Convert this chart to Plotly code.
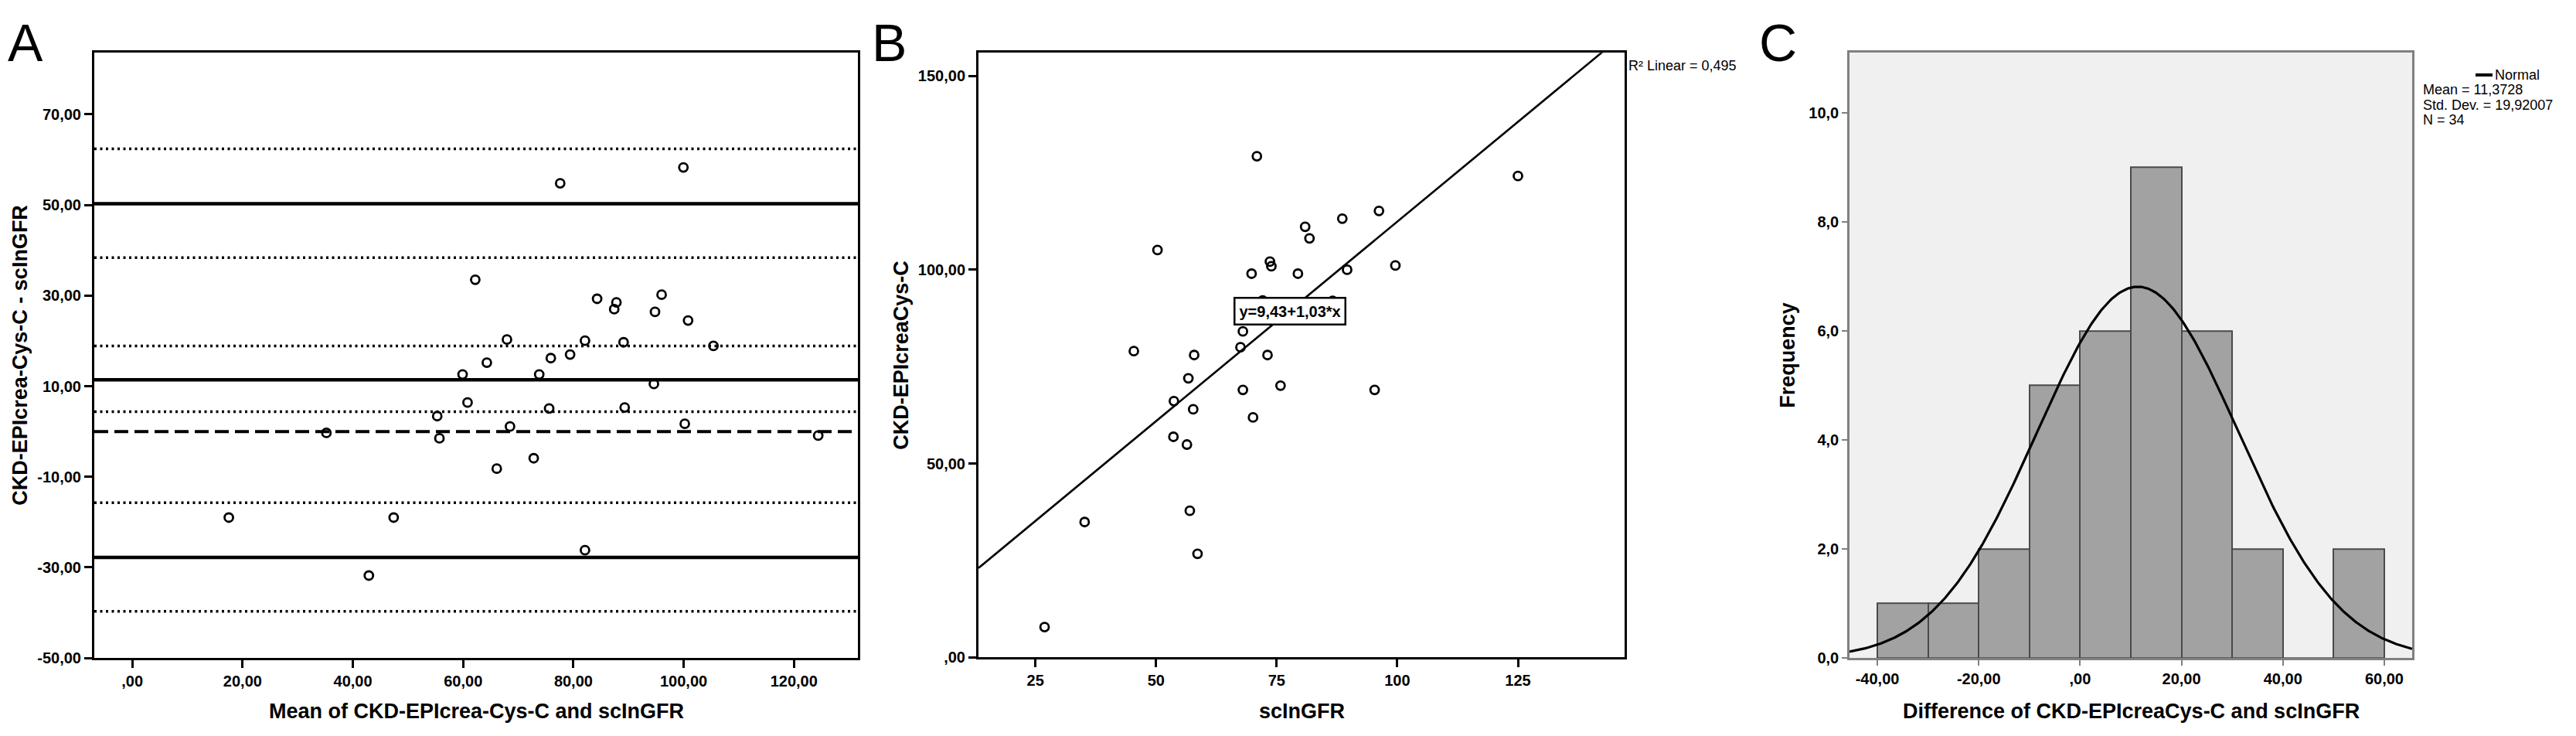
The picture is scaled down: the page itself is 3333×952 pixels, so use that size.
import numpy as np
import plotly.graph_objects as go

W, H = 3333, 952

# ---------------- Data ----------------
# Panel A: Bland-Altman (mean vs difference)
A_MEAN = [77.6, 99.95, 62.2, 84.3, 87.8, 87.4, 96.0, 94.8, 100.8, 67.95, 82.1, 89.1,
          105.4, 79.4, 75.9, 64.3, 59.9, 73.8, 94.6, 60.8, 75.6, 89.3, 55.3, 68.5,
          100.2, 35.2, 55.7, 124.4, 72.8, 66.1, 17.5, 47.4, 82.1, 42.9]
A_DIFF = [54.8, 58.3, 33.5, 29.3, 28.5, 27.0, 30.2, 26.4, 24.5, 20.3, 20.05, 19.7,
          18.9, 17.0, 16.2, 15.2, 12.6, 12.6, 10.5, 6.4, 5.1, 5.3, 3.4, 1.1,
          1.7, -0.3, -1.5, -0.9, -5.9, -8.2, -19.0, -19.0, -26.2, -31.8]
A_SOLID = [50.3, 11.4, -27.8]            # limits of agreement and mean difference
A_DOTTED = [62.4, 38.4, 18.9, 4.4, -15.7, -39.7]  # confidence intervals
A_DASHED = [0.0]                         # line of equality
A_XTICKS = [0, 20, 40, 60, 80, 100, 120]
A_XTICKTEXT = [",00", "20,00", "40,00", "60,00", "80,00", "100,00", "120,00"]
A_YTICKS = [-50, -30, -10, 10, 30, 50, 70]
A_YTICKTEXT = ["-50,00", "-30,00", "-10,00", "10,00", "30,00", "50,00", "70,00"]

# Panel B: scatter with regression
B_X = [26.9, 35.2, 45.4, 50.3, 53.7, 53.6, 56.7, 56.4, 57.0, 58.6, 57.9, 57.7,
       68.0, 67.5, 68.0, 70.1, 69.8, 70.9, 73.6, 73.9, 73.1, 75.8, 79.4, 80.9,
       81.8, 88.6, 89.6, 96.2, 95.3, 99.6, 125.0, 72.1, 70.9, 86.6]
B_Y = [7.8, 34.9, 79.0, 105.1, 66.1, 56.9, 72.0, 54.9, 37.8, 26.7, 78.0, 64.0,
       84.1, 80.0, 69.0, 61.9, 99.0, 129.3, 102.1, 100.9, 78.0, 70.1, 99.0, 111.1,
       108.1, 113.2, 100.0, 115.2, 69.0, 101.1, 124.2, 92.1, 87.9, 92.0]
B_INTERCEPT = 9.43
B_SLOPE = 1.03
B_XTICKS = [25, 50, 75, 100, 125]
B_XTICKTEXT = ["25", "50", "75", "100", "125"]
B_YTICKS = [0, 50, 100, 150]
B_YTICKTEXT = [",00", "50,00", "100,00", "150,00"]

# Panel C: histogram of differences
C_BIN_LEFT = [-40, -30, -20, -10, 0, 10, 20, 30, 40, 50]
C_COUNTS = [1, 1, 2, 5, 6, 9, 6, 2, 0, 2]
C_BIN_WIDTH = 10
C_MEAN = 11.3728
C_SD = 19.92007
C_N = 34
C_XTICKS = [-40, -20, 0, 20, 40, 60]
C_XTICKTEXT = ["-40,00", "-20,00", ",00", "20,00", "40,00", "60,00"]
C_YTICKS = [0, 2, 4, 6, 8, 10]
C_YTICKTEXT = ["0,0", "2,0", "4,0", "6,0", "8,0", "10,0"]

# ---------------- Styling ----------------
NARROW = "Liberation Sans Narrow, Arial Narrow, Liberation Sans, Arial, sans-serif"
REG = "Liberation Sans, Arial, sans-serif"


def px(x):
    return x / W


def py(y):
    return 1 - y / H


A_RANGE_X = [-6.9, 131.6]
B_RANGE_X = [13.2, 147.1]
C_RANGE_X = [-45.5, 65.5]

MARKER = dict(symbol="circle-open", size=11, color="black",
              line=dict(width=2.8, color="black"))

fig = go.Figure()

# Panel A lines
for v in A_DOTTED:
    fig.add_trace(go.Scatter(x=A_RANGE_X, y=[v, v], mode="lines",
                             line=dict(color="black", width=3.5, dash="3px,4.5px"),
                             xaxis="x", yaxis="y", hoverinfo="skip"))
for v in A_DASHED:
    fig.add_trace(go.Scatter(x=A_RANGE_X, y=[v, v], mode="lines",
                             line=dict(color="black", width=4, dash="18px,8px"),
                             xaxis="x", yaxis="y", hoverinfo="skip"))
for v in A_SOLID:
    fig.add_trace(go.Scatter(x=A_RANGE_X, y=[v, v], mode="lines",
                             line=dict(color="black", width=4.5),
                             xaxis="x", yaxis="y", hoverinfo="skip"))
fig.add_trace(go.Scatter(x=A_MEAN, y=A_DIFF, mode="markers", marker=MARKER,
                         xaxis="x", yaxis="y"))

# Panel B
reg_x = np.array(B_RANGE_X)
fig.add_trace(go.Scatter(x=reg_x, y=B_INTERCEPT + B_SLOPE * reg_x, mode="lines",
                         line=dict(color="black", width=2.6),
                         xaxis="x2", yaxis="y2", hoverinfo="skip"))
fig.add_trace(go.Scatter(x=B_X, y=B_Y, mode="markers", marker=MARKER,
                         xaxis="x2", yaxis="y2"))

# Panel C
centers = [b + C_BIN_WIDTH / 2 for b in C_BIN_LEFT]
fig.add_trace(go.Bar(x=centers, y=C_COUNTS, width=[C_BIN_WIDTH] * len(centers),
                     marker=dict(color="#a2a2a2", line=dict(color="#4a4a4a", width=2)),
                     xaxis="x3", yaxis="y3"))
cx = np.linspace(C_RANGE_X[0], C_RANGE_X[1], 400)
cy = C_N * C_BIN_WIDTH * np.exp(-0.5 * ((cx - C_MEAN) / C_SD) ** 2) / (C_SD * np.sqrt(2 * np.pi))
fig.add_trace(go.Scatter(x=cx, y=cy, mode="lines", line=dict(color="black", width=3.2),
                         xaxis="x3", yaxis="y3", hoverinfo="skip"))

tickfont = dict(family=NARROW, size=20, color="black", weight="bold")
common = dict(showgrid=False, zeroline=False, showline=True, mirror=True,
              linecolor="black", linewidth=3, ticks="outside", ticklen=10,
              tickwidth=2.5, tickcolor="black", tickfont=tickfont)
c_axis = {**common, "linecolor": "#808080", "linewidth": 2.5,
          "tickcolor": "#808080", "ticklen": 7, "tickwidth": 2}

fig.update_layout(
    width=W, height=H, margin=dict(l=0, r=0, t=0, b=0),
    paper_bgcolor="white", plot_bgcolor="white", showlegend=False, bargap=0,
    xaxis=dict(domain=[px(114), px(1102)], range=A_RANGE_X, anchor="y",
               tickvals=A_XTICKS, ticktext=A_XTICKTEXT, **common),
    yaxis=dict(domain=[py(853), py(61)], range=[-50, 83.6], anchor="x",
               tickvals=A_YTICKS, ticktext=A_YTICKTEXT, **common),
    xaxis2=dict(domain=[px(1258), px(2094)], range=B_RANGE_X, anchor="y2",
                tickvals=B_XTICKS, ticktext=B_XTICKTEXT, **common),
    yaxis2=dict(domain=[py(852), py(61)], range=[0, 156], anchor="x2",
                tickvals=B_YTICKS, ticktext=B_YTICKTEXT, **common),
    xaxis3=dict(domain=[px(2385), px(3113)], range=C_RANGE_X, anchor="y3",
                tickvals=C_XTICKS, ticktext=C_XTICKTEXT, **c_axis),
    yaxis3=dict(domain=[py(853), py(61)], range=[0, 11.1], anchor="x3",
                tickvals=C_YTICKS, ticktext=C_YTICKTEXT, **c_axis),
)

# gray background for panel C
fig.add_shape(type="rect", xref="x3 domain", yref="y3 domain", x0=0, x1=1, y0=0, y1=1,
              fillcolor="#f0f0f0", line=dict(width=0), layer="below")
# legend line for "Normal"
fig.add_shape(type="line", xref="paper", yref="paper", x0=px(3195), x1=px(3217),
              y0=py(90), y1=py(90), line=dict(color="black", width=4))

title_font = dict(family=NARROW, size=27, color="black", weight="bold")
small = dict(family=NARROW, size=18, color="black")
annots = [
    # panel letters
    dict(text="A", x=px(0), y=py(48), xanchor="left", yanchor="middle",
         font=dict(family=REG, size=68, color="black")),
    dict(text="B", x=px(1118), y=py(48), xanchor="left", yanchor="middle",
         font=dict(family=REG, size=68, color="black")),
    dict(text="C", x=px(2266), y=py(48), xanchor="left", yanchor="middle",
         font=dict(family=REG, size=68, color="black")),
    # axis titles
    dict(text="Mean of CKD-EPIcrea-Cys-C and scInGFR", x=px(608), y=py(923),
         xanchor="center", yanchor="middle", font=title_font),
    dict(text="CKD-EPIcrea-Cys-C - scInGFR", x=px(18), y=py(457), textangle=-90,
         xanchor="center", yanchor="middle", font=title_font),
    dict(text="scInGFR", x=px(1676), y=py(923), xanchor="center", yanchor="middle",
         font=title_font),
    dict(text="CKD-EPIcreaCys-C", x=px(1158), y=py(457), textangle=-90,
         xanchor="center", yanchor="middle", font=title_font),
    dict(text="Difference of CKD-EPIcreaCys-C and scInGFR", x=px(2749), y=py(923),
         xanchor="center", yanchor="middle", font=title_font),
    dict(text="Frequency", x=px(2305), y=py(457), textangle=-90,
         xanchor="center", yanchor="middle", font=title_font),
    # panel B annotations
    dict(text="R² Linear = 0,495", x=px(2097), y=py(78), xanchor="left",
         yanchor="middle", font=small),
    dict(text="y=9,43+1,03*x", x=px(1661), y=py(399), xanchor="center",
         yanchor="middle", bgcolor="white", bordercolor="black", borderwidth=2.5,
         borderpad=5, font=dict(family=NARROW, size=20, color="black", weight="bold")),
    # panel C legend
    dict(text="Normal", x=px(3218), y=py(90), xanchor="left", yanchor="middle", font=small),
    dict(text="Mean = 11,3728", x=px(3125), y=py(109), xanchor="left", yanchor="middle",
         font=small),
    dict(text="Std. Dev. = 19,92007", x=px(3125), y=py(129), xanchor="left",
         yanchor="middle", font=small),
    dict(text="N = 34", x=px(3125), y=py(149), xanchor="left", yanchor="middle",
         font=small),
]
for a in annots:
    a.setdefault("xref", "paper")
    a.setdefault("yref", "paper")
    a.setdefault("showarrow", False)
    fig.add_annotation(**a)

fig.write_html("out.html")
